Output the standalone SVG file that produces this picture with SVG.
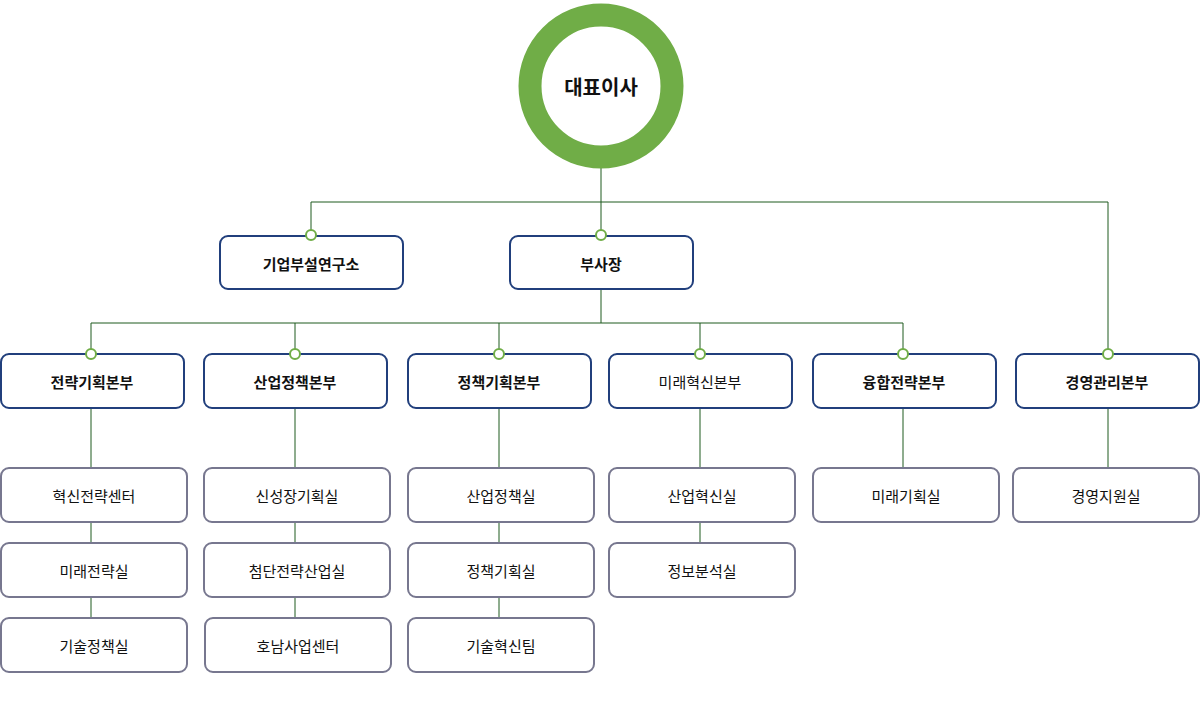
<svg xmlns="http://www.w3.org/2000/svg" width="1200" height="713" viewBox="0 0 1200 713">
<style>
text{font-family:"Noto Sans CJK KR","Noto Sans",sans-serif;text-anchor:middle;dominant-baseline:central;fill:#111}
.m{fill:#fff;stroke:#213f7c;stroke-width:2}
.s{fill:#fff;stroke:#77778f;stroke-width:2}
.b{font-size:15px;font-weight:bold}
.n{font-size:15px}
.c{fill:none;stroke:#1e5a1e;stroke-width:1}
.d{fill:#fff;stroke:#70ad47;stroke-width:2}
</style>
<g id="connectors">
<path class="c" d="M601 168V202M311 236V202H1108V354M601 202V236M601 289V323M91 354V323H903V354M295 323V354M499 323V354M700 323V354"/>
<path class="c" d="M91 408V468M91 522V543M91 597V618M295 408V468M295 522V543M295 597V618M499 408V468M499 522V543M499 597V618M700 408V468M700 522V543M903 408V468M1108 408V468"/>
</g>
<g id="ceo"><circle cx="601" cy="86" r="71" fill="#fff" stroke="#70ad47" stroke-width="23"/><text x="601" y="86" style="font-size:20px;font-weight:bold">대표이사</text></g>
<g id="lab"><rect class="m" x="220" y="236" width="183" height="53" rx="8"/><text class="b" x="311" y="263">기업부설연구소</text></g>
<g id="vp"><rect class="m" x="510" y="236" width="183" height="53" rx="8"/><text class="b" x="601" y="263">부사장</text></g>
<g id="h1"><rect class="m" x="1" y="354" width="183" height="54" rx="8"/><text class="b" x="92" y="381">전략기획본부</text></g>
<g id="h2"><rect class="m" x="204" y="354" width="183" height="54" rx="8"/><text class="b" x="295" y="381">산업정책본부</text></g>
<g id="h3"><rect class="m" x="408" y="354" width="183" height="54" rx="8"/><text class="b" x="499" y="381">정책기획본부</text></g>
<g id="h4"><rect class="m" x="609" y="354" width="183" height="54" rx="8"/><text class="n" x="700" y="381">미래혁신본부</text></g>
<g id="h5"><rect class="m" x="813" y="354" width="183" height="54" rx="8"/><text class="b" x="904" y="381">융합전략본부</text></g>
<g id="h6"><rect class="m" x="1016" y="354" width="183" height="54" rx="8"/><text class="b" x="1107" y="381">경영관리본부</text></g>
<g id="u1"><rect class="s" x="1" y="468" width="186" height="54" rx="8"/><text class="n" x="94" y="495">혁신전략센터</text></g>
<g id="u2"><rect class="s" x="1" y="543" width="186" height="54" rx="8"/><text class="n" x="94" y="570">미래전략실</text></g>
<g id="u3"><rect class="s" x="1" y="618" width="186" height="54" rx="8"/><text class="n" x="94" y="645">기술정책실</text></g>
<g id="u4"><rect class="s" x="204" y="468" width="186" height="54" rx="8"/><text class="n" x="297" y="495">신성장기획실</text></g>
<g id="u5"><rect class="s" x="204" y="543" width="186" height="54" rx="8"/><text class="n" x="297" y="570">첨단전략산업실</text></g>
<g id="u6"><rect class="s" x="205" y="618" width="186" height="54" rx="8"/><text class="n" x="298" y="645">호남사업센터</text></g>
<g id="u7"><rect class="s" x="408" y="468" width="186" height="54" rx="8"/><text class="n" x="501" y="495">산업정책실</text></g>
<g id="u8"><rect class="s" x="408" y="543" width="186" height="54" rx="8"/><text class="n" x="501" y="570">정책기획실</text></g>
<g id="u9"><rect class="s" x="408" y="618" width="186" height="54" rx="8"/><text class="n" x="501" y="645">기술혁신팀</text></g>
<g id="u10"><rect class="s" x="609" y="468" width="186" height="54" rx="8"/><text class="n" x="702" y="495">산업혁신실</text></g>
<g id="u11"><rect class="s" x="609" y="543" width="186" height="54" rx="8"/><text class="n" x="702" y="570">정보분석실</text></g>
<g id="u12"><rect class="s" x="813" y="468" width="186" height="54" rx="8"/><text class="n" x="906" y="495">미래기획실</text></g>
<g id="u13"><rect class="s" x="1013" y="468" width="186" height="54" rx="8"/><text class="n" x="1106" y="495">경영지원실</text></g>
<g id="dots">
<circle class="d" cx="311" cy="235" r="5"/><circle class="d" cx="601" cy="235" r="5"/>
<circle class="d" cx="91" cy="354" r="5"/><circle class="d" cx="295" cy="354" r="5"/><circle class="d" cx="499" cy="354" r="5"/><circle class="d" cx="700" cy="354" r="5"/><circle class="d" cx="903" cy="354" r="5"/><circle class="d" cx="1108" cy="354" r="5"/>
</g>
</svg>
